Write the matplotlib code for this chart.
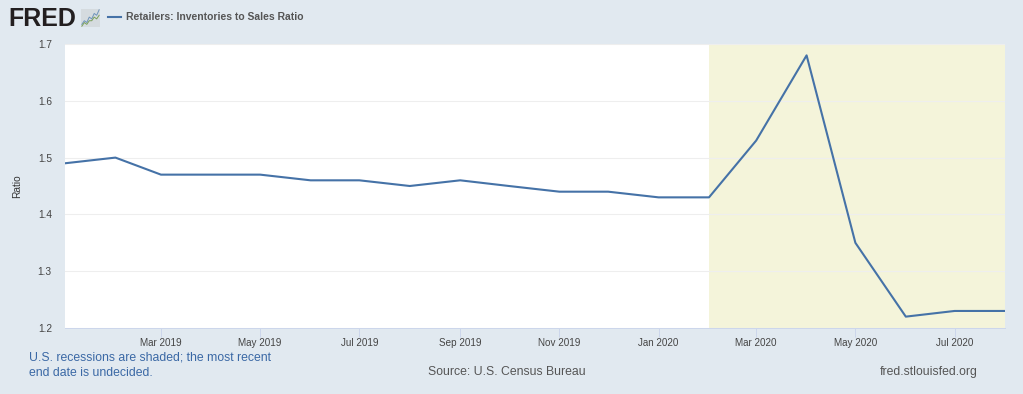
import matplotlib
matplotlib.use('Agg')
import matplotlib.pyplot as plt
import matplotlib.dates as mdates
import pandas as pd

dates = pd.date_range('2019-01-01', '2020-08-01', freq='MS')
ratio = [1.49, 1.50, 1.47, 1.47, 1.47, 1.46, 1.46, 1.45, 1.46, 1.45,
         1.44, 1.44, 1.43, 1.43, 1.53, 1.68, 1.35, 1.22, 1.23, 1.23]
recession_start = pd.Timestamp('2020-02-01')
tick_dates = pd.date_range('2019-03-01', '2020-07-01', freq='2MS')
y_ticks = [1.2, 1.3, 1.4, 1.5, 1.6, 1.7]

# little logo chart next to FRED
logo_blue = [1, 3, 2, 5, 4, 7, 6, 9]
logo_green = [0, 2, 1, 3, 3, 5, 4, 6]

W, H = 1023, 394
bg = '#e1e9f0'
line_color = '#4572a7'

plt.rcParams['font.family'] = ['Liberation Sans', 'DejaVu Sans']

fig = plt.figure(figsize=(W / 100, H / 100), dpi=100, facecolor=bg)
ax = fig.add_axes([65 / W, 1 - 328 / H, 940 / W, 284 / H])
ax.set_facecolor('white')

ax.axvspan(recession_start, dates[-1], color='#f4f4da', lw=0, zorder=1)
ax.plot(dates, ratio, color=line_color, linewidth=1.5, zorder=3)

ax.set_xlim(dates[0], dates[-1])
ax.set_ylim(1.2, 1.7)
ax.set_yticks(y_ticks)
ax.set_xticks(tick_dates)
ax.xaxis.set_major_formatter(mdates.DateFormatter('%b %Y'))
ax.grid(True, axis='y', color='#eeeeee', linewidth=0.8, zorder=2)
ax.tick_params(axis='x', length=6.2, width=0.7, color='#ccd6eb', labelsize=7.1,
               labelcolor='#444444', pad=1)
ax.tick_params(axis='y', length=0, labelsize=7.3, labelcolor='#444444', pad=9.5)
for s in ax.spines.values():
    s.set_visible(False)
ax.spines['bottom'].set_visible(True)
ax.spines['bottom'].set_color('#ccd6eb')
ax.spines['bottom'].set_linewidth(0.7)
ax.set_ylabel('Ratio', fontsize=7.3, color='#333333')
ax.yaxis.set_label_coords((22 - 65) / 940, 0.5)

fig.text(8 / W, 1 - 19 / H, 'FRED', fontsize=18, fontweight='bold', color='#231f20',
         va='center', ha='left')

logo = fig.add_axes([81 / W, 1 - 27 / H, 19 / W, 18 / H])
logo.set_facecolor('#d5dbdf')
logo.plot(logo_blue, color='#6f94bb', linewidth=0.7)
logo.plot(logo_green, color='#7ba05b', linewidth=0.7)
logo.set_xticks([])
logo.set_yticks([])
for s in logo.spines.values():
    s.set_visible(False)

fig.add_artist(plt.Line2D([108 / W, 121 / W], [1 - 17 / H, 1 - 17 / H], color=line_color, linewidth=1.5))
fig.text(126.5 / W, 1 - 17.5 / H, 'Retailers: Inventories to Sales Ratio', fontsize=7.5,
         fontweight='bold', color='#555555', va='center', ha='left')

fig.text(29 / W, 1 - 357.5 / H, 'U.S. recessions are shaded; the most recent', fontsize=8.85,
         color='#3a68a5', va='center', ha='left')
fig.text(29 / W, 1 - 372.5 / H, 'end date is undecided.', fontsize=8.85,
         color='#3a68a5', va='center', ha='left')
fig.text(506.5 / W, 1 - 372 / H, 'Source: U.S. Census Bureau', fontsize=8.85,
         color='#555555', va='center', ha='center')
fig.text(978 / W, 1 - 372.5 / H, 'fred.stlouisfed.org', fontsize=8.85,
         color='#555555', va='center', ha='right')

fig.savefig('out.png', dpi=100, facecolor=bg)
